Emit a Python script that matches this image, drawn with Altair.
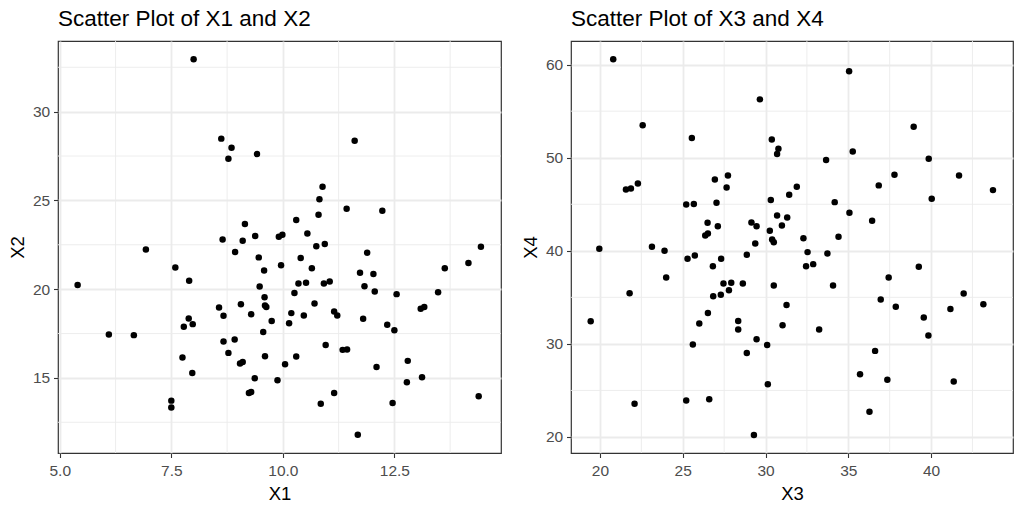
import altair as alt
import pandas as pd

# ---- data ----
x1 = [5.40, 6.10, 6.66, 6.93, 7.50, 7.50, 7.59, 7.75, 7.78, 7.89,
      7.98, 7.90, 7.97, 8.00, 8.57, 8.62, 8.65, 8.67, 8.67, 8.78,
      8.85, 8.78, 8.92, 8.93, 9.06, 9.04, 9.10, 9.10, 9.15, 9.24,
      9.29, 9.29, 9.37, 9.38, 9.42, 9.46, 9.48, 9.56, 9.58, 9.59,
      9.60, 9.63, 9.60, 9.75, 9.88, 9.91, 9.99, 9.96, 10.05, 10.14,
      10.19, 10.26, 10.30, 10.30, 10.35, 10.40, 10.47, 10.52, 10.55, 10.65,
      10.71, 10.75, 10.80, 10.82, 10.85, 10.89, 10.92, 10.94, 10.96, 11.05,
      11.15, 11.22, 11.15, 11.34, 11.44, 11.43, 11.61, 11.68, 11.73, 11.80,
      11.83, 11.89, 12.03, 12.06, 12.10, 12.23, 12.34, 12.46, 12.50, 12.55,
      12.78, 12.80, 13.09, 13.17, 13.12, 13.48, 13.63, 14.16, 14.39, 14.44]
x2 = [20.24, 17.44, 17.41, 22.24, 13.72, 13.33, 21.22, 16.15, 17.88, 18.35,
      18.03, 20.47, 15.28, 32.95, 18.97, 28.48, 22.80, 18.50, 17.05, 27.35,
      27.97, 16.41, 17.16, 22.09, 19.15, 15.81, 15.90, 22.73, 23.67, 14.15,
      14.21, 18.59, 14.98, 22.99, 27.61, 21.79, 20.15, 17.59, 21.05, 19.55,
      19.08, 19.00, 16.22, 18.20, 14.87, 22.95, 23.06, 21.35, 15.77, 18.08,
      18.65, 19.79, 23.89, 16.20, 20.32, 21.75, 18.52, 20.36, 23.14, 21.18,
      19.19, 22.42, 24.19, 25.06, 13.55, 25.77, 20.32, 22.54, 16.86, 20.43,
      18.74, 18.52, 14.15, 16.58, 16.60, 24.53, 28.36, 11.80, 20.92, 18.33,
      20.17, 22.05, 20.85, 19.87, 15.62, 24.42, 17.99, 13.59, 17.69, 19.72,
      14.76, 15.96, 18.89, 19.00, 15.04, 19.83, 21.18, 21.48, 13.97, 22.39]
x3 = [19.44, 19.96, 20.80, 21.57, 21.87, 22.29, 21.79, 22.09, 22.58, 23.14,
      23.90, 24.00, 25.21, 25.67, 25.55, 25.29, 25.73, 25.61, 25.21, 26.00,
      26.36, 26.52, 26.50, 26.52, 26.60, 26.84, 26.82, 26.94, 27.04, 27.12,
      27.30, 27.32, 27.46, 27.65, 27.73, 27.79, 27.93, 28.35, 28.35, 28.63,
      28.87, 28.87, 29.15, 29.46, 29.38, 29.46, 29.30, 29.66, 30.10, 30.14,
      30.26, 30.32, 30.38, 30.40, 30.50, 30.50, 30.70, 30.78, 30.70, 30.99,
      31.03, 31.27, 31.31, 31.43, 31.89, 32.29, 32.54, 32.45, 32.88, 33.24,
      33.66, 33.74, 34.08, 34.18, 34.41, 35.05, 35.07, 35.27, 35.71, 36.28,
      36.44, 36.62, 36.84, 36.96, 37.36, 37.44, 37.79, 37.87, 38.95, 39.26,
      39.56, 39.86, 39.84, 40.04, 41.17, 41.37, 41.69, 41.97, 43.16, 43.74]
x4 = [32.44, 40.22, 60.57, 46.59, 46.70, 47.24, 35.45, 23.58, 53.48, 40.43,
      40.00, 37.13, 44.98, 45.02, 52.11, 39.14, 39.50, 29.93, 23.91, 32.19,
      41.65, 41.86, 43.01, 33.33, 24.05, 35.13, 38.35, 47.67, 45.16, 42.65,
      35.27, 39.14, 36.49, 46.81, 48.10, 35.77, 36.56, 32.47, 31.54, 36.49,
      39.57, 29.03, 43.05, 42.65, 40.79, 30.50, 20.22, 56.27, 29.89, 25.66,
      42.15, 45.45, 51.97, 41.22, 40.93, 36.27, 43.80, 50.97, 50.39, 42.72,
      32.01, 34.19, 43.58, 46.02, 46.88, 41.36, 39.86, 38.35, 38.57, 31.54,
      49.75, 39.71, 36.27, 45.23, 41.51, 59.28, 44.09, 50.68, 26.74, 22.72,
      43.23, 29.25, 47.03, 34.77, 26.16, 37.13, 48.17, 33.98, 53.33, 38.28,
      32.83, 49.89, 30.90, 45.59, 33.76, 25.95, 48.10, 35.41, 34.27, 46.52]

x1_major = [5.0, 7.5, 10.0, 12.5]
x1_minor = [6.25, 8.75, 11.25, 13.75]
x2_major = [15, 20, 25, 30]
x2_minor = [12.5, 17.5, 22.5, 27.5, 32.5]
x3_major = [20, 25, 30, 35, 40]
x3_minor = [22.5, 27.5, 32.5, 37.5, 42.5]
x4_major = [20, 30, 40, 50, 60]
x4_minor = [25, 35, 45, 55]

x1_domain = [4.96, 14.89]
x2_domain = [10.77, 33.98]
x3_domain = [18.25, 44.95]
x4_domain = [18.28, 62.54]

FONT = "Liberation Sans"
GRID = "#EBEBEB"


def panel(xs, ys, xname, yname, xdom, ydom, xmaj, xmin, ymaj, ymin, xfmt, title, w):
    df = pd.DataFrame({"a": xs, "b": ys})
    xscale = alt.Scale(domain=xdom, nice=False, zero=False)
    yscale = alt.Scale(domain=ydom, nice=False, zero=False)
    common = dict(
        grid=True, gridColor=GRID, gridWidth=1.8, domain=False,
        tickColor="#333333", tickWidth=1.1, tickSize=4.5,
        labelFont=FONT, labelFontSize=15.5, labelColor="#4D4D4D",
        titleFont=FONT, titleFontSize=18.5, titleColor="black",
        titleFontWeight="normal",
    )
    xaxis = alt.Axis(values=xmaj, format=xfmt, title=xname, labelPadding=5.5,
                     titlePadding=6, labelFlush=False, labelOverlap=False, **common)
    yaxis = alt.Axis(values=ymaj, format="d", title=yname, labelPadding=3.8,
                     minExtent=26, maxExtent=26, titlePadding=4.5,
                     labelOverlap=False, **common)
    vmin = alt.Chart(pd.DataFrame({"a": xmin})).mark_rule(
        color=GRID, strokeWidth=0.9).encode(
        x=alt.X("a:Q", scale=xscale, axis=xaxis))
    hmin = alt.Chart(pd.DataFrame({"b": ymin})).mark_rule(
        color=GRID, strokeWidth=0.9).encode(
        y=alt.Y("b:Q", scale=yscale, axis=yaxis))
    pts = alt.Chart(df).mark_circle(size=42, color="black", opacity=1,
                                    strokeWidth=0).encode(
        x=alt.X("a:Q", scale=xscale, axis=xaxis),
        y=alt.Y("b:Q", scale=yscale, axis=yaxis),
    )
    return alt.layer(vmin, hmin, pts).properties(
        width=w, height=412,
        title=alt.TitleParams(title, anchor="start", frame="group", font=FONT,
                              fontSize=22.5, fontWeight="normal", color="black",
                              baseline="alphabetic", offset=-8),
    )


left = panel(x1, x2, "X1", "X2", x1_domain, x2_domain, x1_major, x1_minor,
             x2_major, x2_minor, ".1f", "Scatter Plot of X1 and X2", 443)
right = panel(x3, x4, "X3", "X4", x3_domain, x4_domain, x3_major, x3_minor,
              x4_major, x4_minor, "d", "Scatter Plot of X3 and X4", 442)

chart = alt.hconcat(left, right, spacing=17).properties(
    padding={"left": 7, "top": 7, "right": 5, "bottom": 5},
    background="white",
).configure_view(stroke="#333333", strokeWidth=1.2)

chart.save("out.html", embed_options={"renderer": "svg", "actions": False})
